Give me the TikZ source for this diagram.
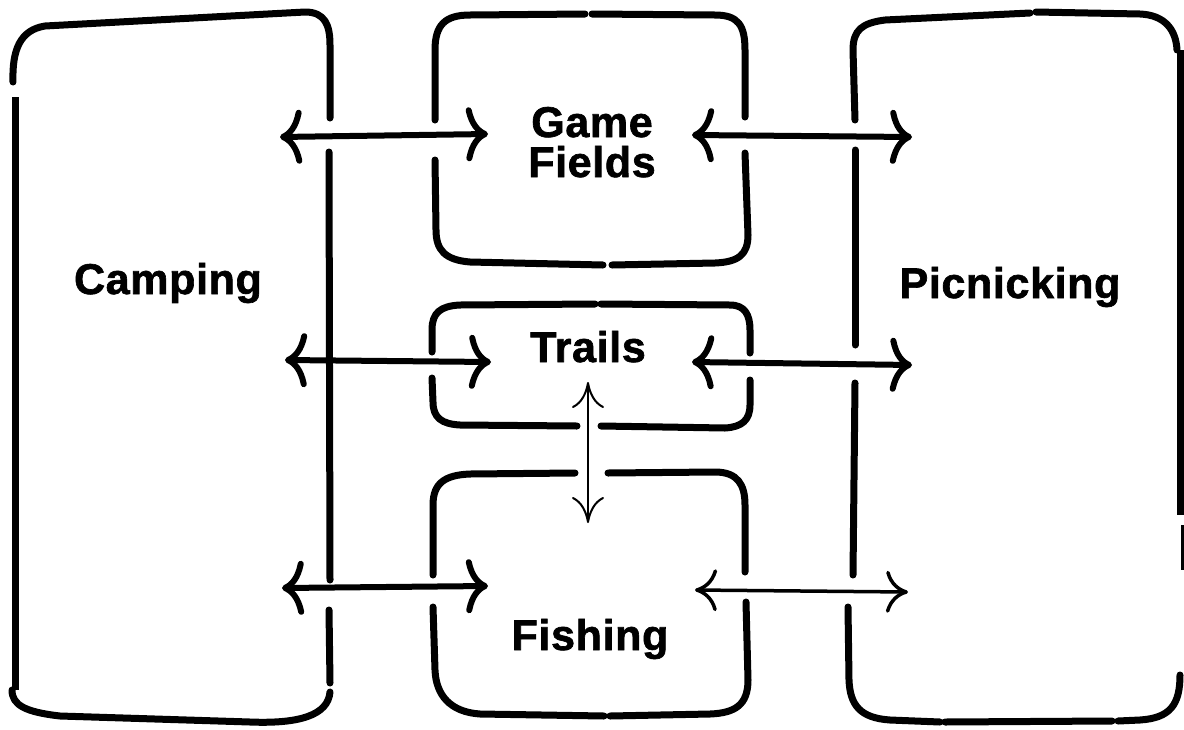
\documentclass[tikz,border=0pt]{standalone}
\usepackage{fontspec}
\newfontfamily\lblfont{Liberation Sans}[LetterSpace=1.5,FakeBold=1.5]
\usetikzlibrary{arrows.meta}
\tikzset{
  box/.style={line width=7pt, line cap=round, line join=round},
  boxthin/.style={line width=3pt, line cap=butt},
  bigarrow/.style={line width=6pt, line cap=round,
    {Computer Modern Rightarrow[length=22pt,width=54pt]}-{Computer Modern Rightarrow[length=22pt,width=54pt]}},
  midarrow/.style={line width=3.5pt, line cap=round,
    {Computer Modern Rightarrow[length=22pt,width=42pt]}-{Computer Modern Rightarrow[length=22pt,width=42pt]}},
  smallarrow/.style={line width=2pt, line cap=round,
    {Computer Modern Rightarrow[length=26pt,width=32pt]}-{Computer Modern Rightarrow[length=26pt,width=32pt]}},
  lbl/.style={font={\lblfont\bfseries\fontsize{43}{40}\selectfont}, inner sep=0pt, anchor=base, align=center}
}
\begin{document}
\begin{tikzpicture}[x=1pt,y=-1pt]
\useasboundingbox (0,0) rectangle (1184,729);
% ---------- Camping box ----------
\draw[box] (13,82) .. controls (12,50) and (20,30) .. (45,26) -- (305,12) .. controls (325,12) and (330,25) .. (330,45) -- (330,118);
\draw[box, line cap=butt] (15,97) -- (15,690);
\draw[box] (329,152) -- (330,580);
\draw[box] (329,610) -- (330,683);
\draw[box] (12,690) .. controls (12,705) and (25,712) .. (60,716) -- (250,722) .. controls (300,724) and (328,715) .. (330,692);
% ---------- Game Fields box ----------
\draw[box] (435,120) -- (435,50) .. controls (435,25) and (445,15) .. (470,15) -- (585,14);
\draw[box] (592,14) -- (715,15) .. controls (738,15) and (745,25) .. (745,50) -- (745,117);
\draw[box] (745,153) -- (748,235) .. controls (748,255) and (738,262) .. (715,263) -- (612,265);
\draw[box] (603,265) -- (470,262) .. controls (445,260) and (436,250) .. (436,230) -- (435,160);
% ---------- Trails box ----------
\draw[box] (432,352) -- (432,330) .. controls (432,313) and (440,306) .. (460,305) -- (595,304);
\draw[box] (601,304) -- (730,305) .. controls (745,305) and (750,315) .. (750,330) -- (750,353);
\draw[box] (750,380) -- (750,405) .. controls (750,420) and (742,427) .. (725,428) -- (601,426);
\draw[box] (577,426) -- (460,425) .. controls (442,424) and (433,418) .. (433,402) -- (432,378);
% ---------- Fishing box ----------
\draw[box] (433,575) -- (433,505) .. controls (433,483) and (445,475) .. (470,474) -- (575,473);
\draw[box] (608,473) -- (715,472) .. controls (738,472) and (745,485) .. (745,505) -- (745,572);
\draw[box] (746,602) -- (748,680) .. controls (748,705) and (735,713) .. (710,714) -- (610,716);
\draw[box] (604,716) -- (480,714) .. controls (450,712) and (436,695) .. (435,670) -- (433,607);
% ---------- Picnicking box ----------
\draw[box] (855,120) -- (853,50) .. controls (853,30) and (862,23) .. (885,20) -- (1030,13);
\draw[box] (1036,12) -- (1140,14) .. controls (1165,15) and (1176,30) .. (1177,50);
\draw[box, line cap=butt] (1180,50) -- (1180,515);
\draw[boxthin] (1182,525) -- (1182,570);
\draw[box] (855,150) -- (855,345);
\draw[box] (855,383) -- (853,575);
\draw[box] (1180,675) .. controls (1180,705) and (1170,718) .. (1140,720) -- (1118,721);
\draw[box] (1112,721) -- (945,722);
\draw[box] (940,722) -- (890,720) .. controls (860,718) and (850,705) .. (849,680) -- (848,607);
% ---------- labels ----------
\node[lbl] (camping) at (168,294) {Camping};
\node[lbl] (picnic) at (1010,298) {Picnicking};
\node[lbl] (game) at (592,177) {Game\\Fields};
\node[lbl] (trails) at (588,362) {Trails};
\node[lbl] (fishing) at (590,650) {Fishing};
% ---------- arrow end points ----------
\coordinate (a1l) at (280,137); \coordinate (a1r) at (488,134);
\coordinate (a2l) at (285,360); \coordinate (a2r) at (491,362);
\coordinate (a3l) at (282,588); \coordinate (a3r) at (488,586);
\coordinate (b1l) at (692,135); \coordinate (b1r) at (912,137);
\coordinate (b2l) at (692,362); \coordinate (b2r) at (912,365);
\coordinate (b3l) at (695,590); \coordinate (b3r) at (908,592);
\coordinate (vt) at (588,382); \coordinate (vb) at (588,523);
% ---------- arrows ----------
\draw[bigarrow] (a1l) -- (a1r);
\draw[bigarrow] (a2l) -- (a2r);
\draw[bigarrow] (a3l) -- (a3r);
\draw[bigarrow] (b1l) -- (b1r);
\draw[bigarrow] (b2l) -- (b2r);
\draw[midarrow] (b3l) -- (b3r);
\draw[smallarrow] (vt) -- (vb);
\end{tikzpicture}
\end{document}
